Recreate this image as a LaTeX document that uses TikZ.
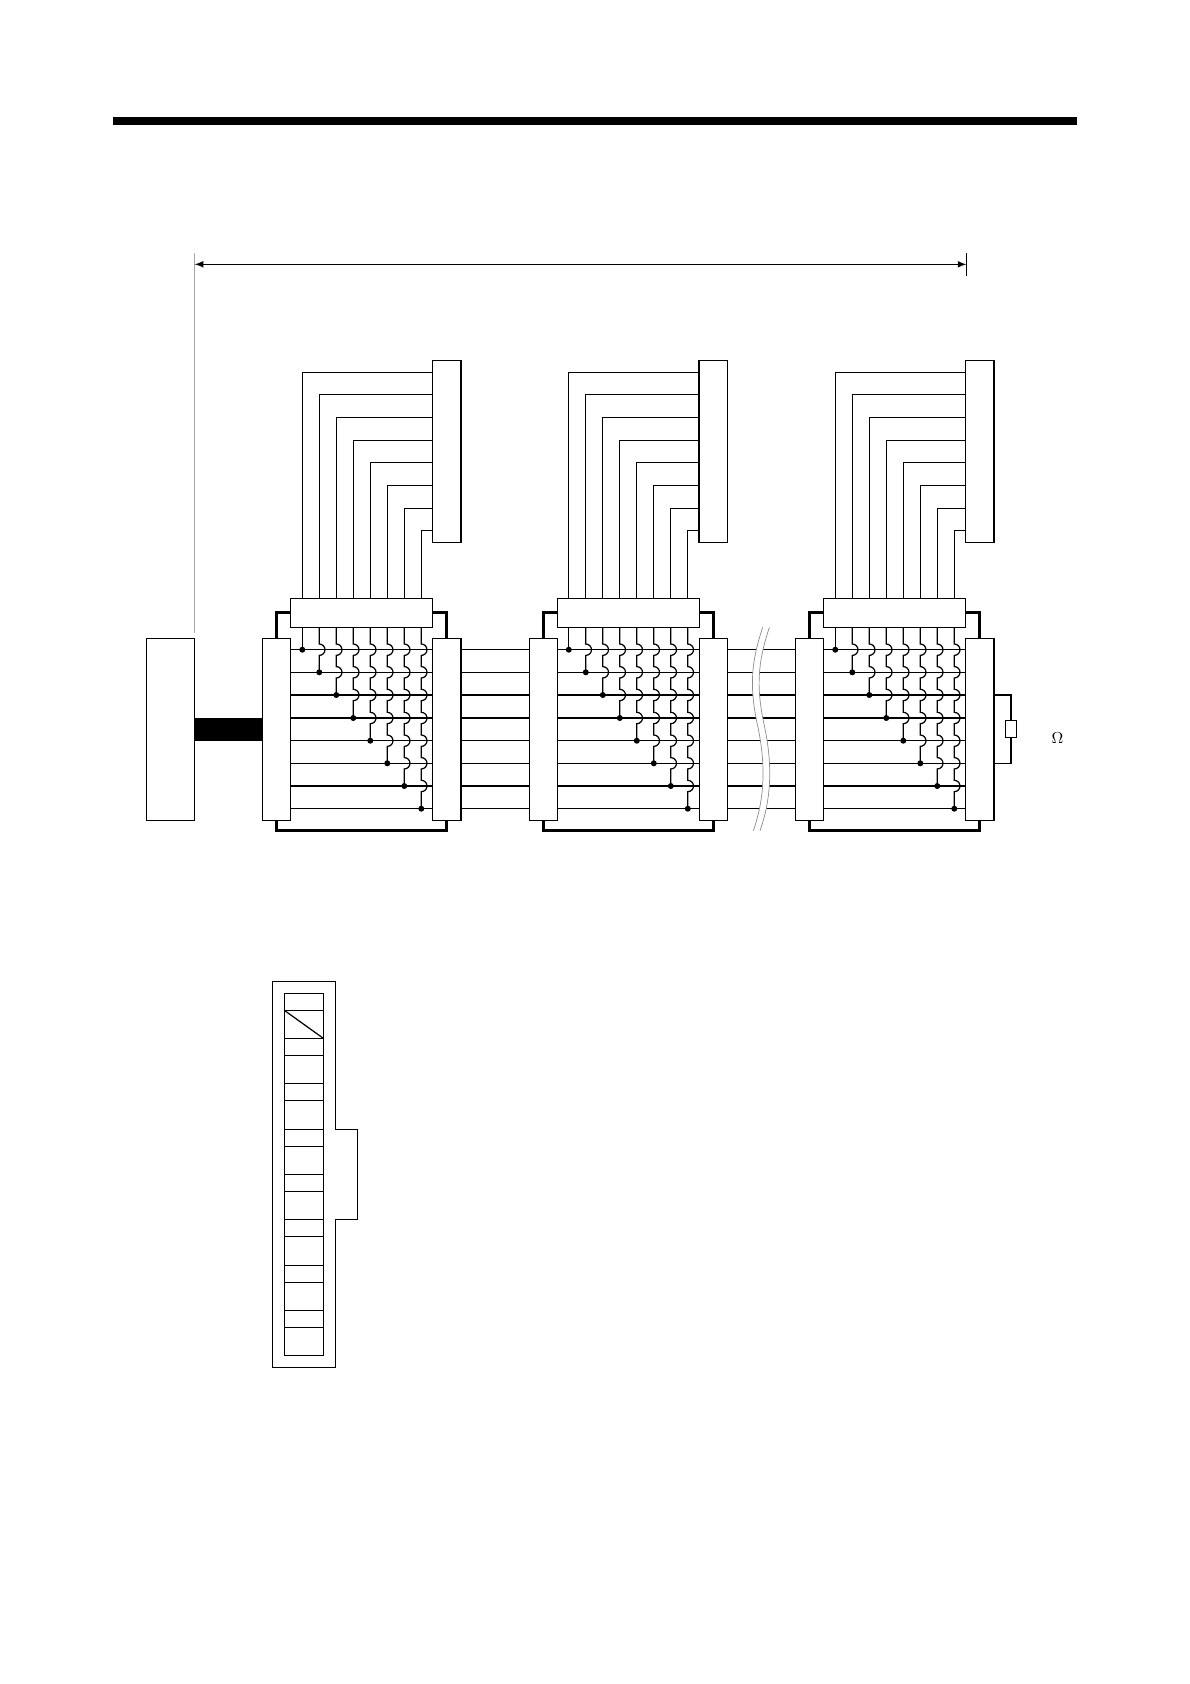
\documentclass[tikz,border=0pt]{standalone}
\usepackage{tikz}
\tikzset{
	box/.style 2 args={draw,fill=white,inner sep=0pt,outer sep=0pt,minimum width=#1*0.02cm,minimum height=#2*0.02cm},
	bracket/.style={line width=1.8pt},
	dimline/.style={gray!70,line width=0.6pt},
	gap/.style={white,line width=0.134cm},
	waveline/.style={gray!90,line width=0.4pt},
	dotmark/.style={fill=black}
}
\newcommand{\wavepath}{(762.7,627.3) .. controls (750,665) and (750,690) .. (757.5,725) .. controls (765,760) and (766,795) .. (753.3,830.7)}
\begin{document}
\begin{tikzpicture}[x=0.02cm,y=-0.02cm,line width=0.7pt]
		\useasboundingbox (0,0) rectangle (1190,1684);
		\fill (113,117) rectangle (1077,125);
		\coordinate (dimL) at (194.7,264.3);
		\coordinate (dimR) at (966.4,264.3);
		\draw [latex-latex] (dimL) -- (dimR);
		\draw [dimline] (194.7,253) -- (194.7,632.7);
		\draw (966.4,253) -- (966.4,276);
		\node [box={48}{182}] (host) at (170.3,729.2) {};
		\foreach \i/\ybus/\ytop in {1/649.7/372.3,2/672.3/394.3,3/695/417.3,4/718/440.3,5/740.7/462.3,6/763.3/485.3,7/786/508.3,8/808.7/530.3}
		{
			\coordinate (bus\i) at (0,\ybus);
			\coordinate (up\i) at (0,\ybus-5.7);
			\coordinate (top\i) at (0,\ytop);
		}
		\foreach \g/\dx in {1/0,2/266.5,3/533}
		{
			\begin{scope}[shift={(\dx,0)}]
				\node [box={28}{182}] (inl\g) at (276.7,729.2) {};
				\node [box={28.4}{182}] (outl\g) at (446.9,729.2) {};
				\node [box={142}{29}] (tee\g) at (361.7,612.8) {};
				\node [box={28.4}{182}] (stub\g) at (446.8,451.3) {};
				\foreach \i in {1,...,8}
					\coordinate (tap\i) at (285.3+17*\i,612.8);
			\end{scope}
			\draw [bracket] (inl\g.north) |- (tee\g.west);
			\draw [bracket] (outl\g.north) |- (tee\g.east);
			\draw [bracket] (inl\g.south) -- ++(0,10.7) -| (outl\g.south);
			\foreach \i in {1,...,8}
			{
				\draw (inl\g.east |- bus\i) -- (outl\g.west |- bus\i);
				\draw (tap\i |- tee\g.north) |- (stub\g.west |- top\i);
				\fill [dotmark] (tap\i |- bus\i) circle [radius=0.06cm];
			}
			\draw (tap1 |- tee\g.south) -- (tap1 |- bus1);
			\foreach \i in {2,...,8}
			{
				\pgfmathtruncatemacro{\prev}{\i-1}
				\draw (tap\i |- tee\g.south) foreach \j in {1,...,\prev} {-- (tap\i |- up\j) arc [start angle=90,end angle=-90,radius=0.114cm]} -- (tap\i |- bus\i);
			}
		}
		\draw [line width=0.454cm] (host.east |- 0,729.3) -- (inl1.west |- 0,729.3);
		\foreach \i in {1,...,8}
		{
			\draw (outl1.east |- bus\i) -- (inl2.west |- bus\i);
			\draw (outl2.east |- bus\i) -- (inl3.west |- bus\i);
		}
		\draw [gap,xshift=0.067cm] \wavepath;
		\draw [waveline] \wavepath;
		\draw [waveline,xshift=0.134cm] \wavepath;
		\node [box={11.4}{17}] (res) at (1011,728.8) {};
		\draw (outl3.east |- bus3) -| (res.north);
		\draw (outl3.east |- bus6) -| (res.south);
		\node [inner sep=0pt,font=\small] (ohm) at (1057.5,738.5) {$\Omega$};
		\draw (272.7,981.3) -- (335.3,981.3) -- (335.3,1129.3) -- (357.3,1129.3) -- (357.3,1219.3) -- (335.3,1219.3) -- (335.3,1367.3) -- (272.7,1367.3) -- cycle;
		\draw (284.3,993.3) rectangle (323.3,1355.3);
		\foreach \ry in {1010.3,1038.3,1055.3,1083.3,1100.3,1129.3,1146.3,1174.3,1191.3,1219.3,1236.3,1265.3,1282.3,1310.3,1327.3}
			\draw (284.3,\ry) -- (323.3,\ry);
		\draw (284.3,1010.3) -- (323.3,1038.3);
\end{tikzpicture}
\end{document}
